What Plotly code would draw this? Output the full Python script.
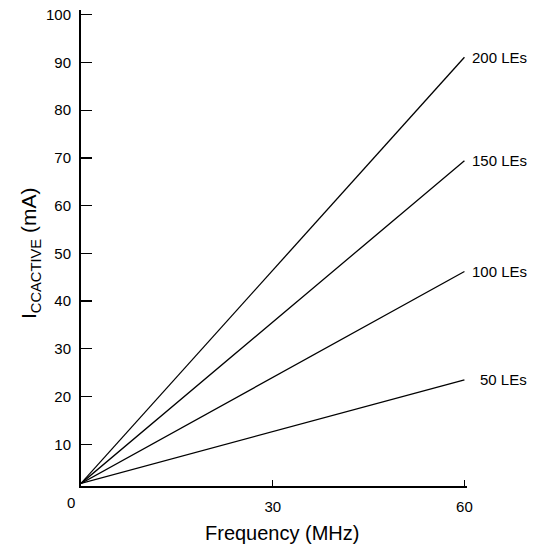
import plotly.graph_objects as go

# Data
frequency_mhz = [0, 60]
series_names = ["200 LEs", "150 LEs", "100 LEs", "50 LEs"]
icc_200 = [1.8, 91.1]
icc_150 = [1.8, 69.4]
icc_100 = [1.8, 46.2]
icc_50 = [1.8, 23.5]
series_values = [icc_200, icc_150, icc_100, icc_50]

y_ticks = [10, 20, 30, 40, 50, 60, 70, 80, 90, 100]
x_ticks = [30, 60]

FONT = "Liberation Sans, Arial, Helvetica, sans-serif"

fig = go.Figure()
for name, vals in zip(series_names, series_values):
    fig.add_trace(go.Scatter(x=frequency_mhz, y=vals, mode="lines",
                             line=dict(color="black", width=1.3),
                             name=name, showlegend=False, hoverinfo="skip"))

annotations = []
for name, vals in zip(series_names, series_values):
    annotations.append(dict(x=frequency_mhz[-1], y=vals[-1], xref="x", yref="y",
                            text=name, showarrow=False, xanchor="right", yanchor="middle",
                            xshift=65, font=dict(size=15, color="black", family=FONT)))

# origin label "0" (offset left of the origin as in the reference)
annotations.append(dict(x=0, y=0, xref="x", yref="paper", text="0", showarrow=False,
                        xanchor="center", yanchor="top", xshift=-10, yshift=-6,
                        font=dict(size=15, color="black", family=FONT)))

# axis titles
annotations.append(dict(x=0.521, y=-0.098, xref="paper", yref="paper",
                        text="Frequency (MHz)", showarrow=False,
                        xanchor="center", yanchor="middle",
                        font=dict(size=20, color="black", family=FONT)))
annotations.append(dict(x=-0.132, y=0.4875, xref="paper", yref="paper",
                        text="I<sub>CCACTIVE</sub> (mA)", showarrow=False, textangle=-90,
                        xanchor="center", yanchor="middle",
                        font=dict(size=21, color="black", family=FONT)))

fig.update_layout(
    width=535, height=547,
    margin=dict(l=81, r=68, t=6, b=61),
    paper_bgcolor="white", plot_bgcolor="white",
    font=dict(family=FONT, color="black"),
    annotations=annotations,
    xaxis=dict(range=[0, 60.4], tickvals=x_ticks, ticktext=[str(v) for v in x_ticks],
               ticks="inside", ticklen=6, tickwidth=1.3, tickcolor="black",
               showline=True, linecolor="black", linewidth=2,
               showgrid=False, zeroline=False, ticklabelstandoff=6,
               tickfont=dict(size=15, color="black", family=FONT)),
    yaxis=dict(range=[1.25, 101], tickvals=y_ticks, ticktext=[str(v) for v in y_ticks],
               ticks="inside", ticklen=11, tickwidth=1.3, tickcolor="black",
               showline=True, linecolor="black", linewidth=2,
               showgrid=False, zeroline=False, ticklabelstandoff=5,
               ticklabeloverflow="allow",
               tickfont=dict(size=15, color="black", family=FONT)),
)

# remove the browser's default 8px body margin so the figure fills the window
fig.write_html("out.html",
               config={"displayModeBar": False, "staticPlot": True},
               post_script="document.body.style.margin='0px';document.body.style.padding='0px';")
